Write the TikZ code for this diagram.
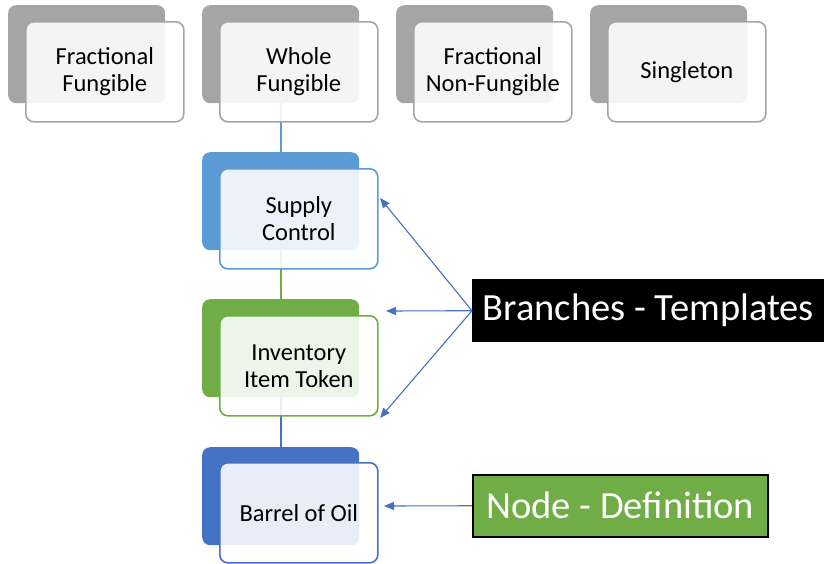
\documentclass[tikz,border=0pt]{standalone}
\usepackage{fontspec}
\setmainfont{Carlito}
\usetikzlibrary{arrows.meta}

\definecolor{cgray}{HTML}{A5A5A5}
\definecolor{cblue}{HTML}{5B9BD5}
\definecolor{cgreen}{HTML}{70AD47}
\definecolor{cdark}{HTML}{4472C4}

\tikzset{
  backbox/.style={rectangle, rounded corners=8pt, fill=#1, draw=none,
    minimum width=157pt, minimum height=98pt, anchor=north west, inner sep=0pt},
  frontbox/.style={rectangle, rounded corners=8pt, draw=#1, line width=1.6pt,
    fill=white, fill opacity=0.88, text opacity=1,
    minimum width=158pt, minimum height=100pt, anchor=north west,
    align=center, inner sep=2pt, font=\fontsize{24.5}{27}\selectfont},
  link/.style={draw=#1, line width=1.6pt},
  pointer/.style={draw=cdark, line width=1.1pt, -{Triangle[length=10pt,width=8pt]}},
  tag/.style={rectangle, anchor=north west, inner sep=0pt, text=white,
    font=\fontsize{38.5}{42}\selectfont},
}

\begin{document}
\begin{tikzpicture}[x=1pt,y=-1pt]
\useasboundingbox (0,0) rectangle (824,563);

% invisible outlines of the stacked back panels, used to run the links
\path (202,5) node[backbox=cgray, fill opacity=0] (b2) {};
\path (202,152) node[backbox=cblue, fill opacity=0] (sb) {};
\path (202,299) node[backbox=cgreen, fill opacity=0] (ib) {};
\path (202,447) node[backbox=cdark, fill opacity=0] (bb) {};

% stack links, behind the boxes
\draw[link=cblue] (b2.south) -- (sb.north);
\draw[link=cgreen] (sb.south) -- (ib.north);
\draw[link=cdark] (ib.south) -- (bb.north);

% top row
\node[backbox=cgray] (b1) at (8,5) {};
\node[frontbox=cgray] (f1) at (25,21) {Fractional\\Fungible};
\node[backbox=cgray] at (202,5) {};
\node[frontbox=cgray] (f2) at (219,21) {Whole\\Fungible};
\node[backbox=cgray] (b3) at (396,5) {};
\node[frontbox=cgray] (f3) at (413,21) {Fractional\\Non-Fungible};
\node[backbox=cgray] (b4) at (590,5) {};
\node[frontbox=cgray] (f4) at (607,21) {Singleton};

% vertical stack
\node[backbox=cblue] at (202,152) {};
\node[frontbox=cblue] (fs) at (219,168) {Supply\\Control};
\node[backbox=cgreen] at (202,299) {};
\node[frontbox=cgreen] (fi) at (219,315) {Inventory\\Item Token};
\node[backbox=cdark] at (202,447) {};
\node[frontbox=cdark] (fb) at (219,462) {Barrel of Oil};

% labels
\node[tag, fill=black, minimum width=352pt, minimum height=63pt] (br) at (472,279) {Branches - Templates};
\node[tag, fill=cgreen, draw=black, line width=1.5pt, minimum width=295pt, minimum height=62pt] (nd) at (472,474) {Node - Definition};

% pointer targets
\coordinate (t1) at (380,198);
\coordinate (t2) at (386,311);
\coordinate (t3) at (380,418);
\coordinate (t4) at (384,506);

\draw[pointer] (br.west) -- (t1);
\draw[pointer] (br.west) -- (t2);
\draw[pointer] (br.west) -- (t3);
\draw[pointer] (nd.west) -- (t4);
\end{tikzpicture}
\end{document}
